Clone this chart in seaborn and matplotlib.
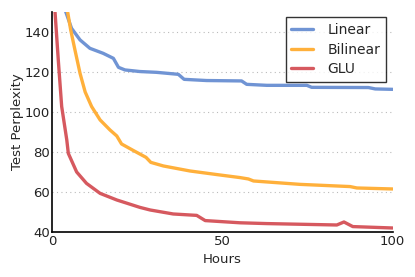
import numpy as np
import pandas as pd
import matplotlib
matplotlib.use("Agg")
import matplotlib.pyplot as plt
import seaborn as sns

linear_hours = [3.7, 5.6, 8.1, 11.0, 14.9, 17.9, 19.4, 21.3, 25.7, 30.6, 37.0, 38.7, 45.3, 55.6, 57.1, 63.0, 74.8, 76.2, 92.9, 94.9, 100.0]
linear_ppl = [151, 141.8, 136, 131.8, 129.3, 126.8, 122.3, 121, 120.2, 119.8, 118.8, 116.3, 115.7, 115.5, 113.8, 113.3, 113.3, 112.3, 112.2, 111.5, 111.3]

bilinear_hours = [4.35, 5.35, 6.6, 8.1, 9.6, 11.5, 14.0, 16.9, 18.9, 20.3, 23.8, 27.5, 28.9, 32.6, 40.4, 48.3, 55.1, 57.6, 59.1, 72.8, 87.5, 89.5, 100.0]
bilinear_ppl = [151, 141, 131, 119.3, 110, 102.7, 96, 91, 88, 84, 80.7, 77.3, 74.8, 73, 70.5, 68.7, 67.2, 66.5, 65.5, 63.8, 62.7, 62, 61.5]

glu_hours = [0.7, 1.7, 2.7, 4.2, 4.65, 7.1, 10.0, 14.0, 18.9, 25.7, 28.7, 35.5, 42.4, 44.9, 55.1, 63.0, 83.6, 85.7, 88.3, 100.0]
glu_ppl = [151, 126, 102.7, 86, 79.3, 70, 64.3, 59.3, 56, 52.3, 51, 49, 48.3, 45.7, 44.6, 44.2, 43.5, 45, 42.7, 42]

series_names = ["Linear", "Bilinear", "GLU"]
colors = ["#7094d4", "#ffb03b", "#d6595f"]

frames = []
for name, h, p in zip(series_names, [linear_hours, bilinear_hours, glu_hours], [linear_ppl, bilinear_ppl, glu_ppl]):
    frames.append(pd.DataFrame({"Hours": h, "ppl": p, "model": name}))
df = pd.concat(frames, ignore_index=True)

sns.set_style("white")
plt.rcParams['font.family'] = ['DejaVu Sans']
fig = plt.figure(figsize=(4.15, 2.77), dpi=100)
ax = fig.add_axes([0.1265, 0.1625, 0.8195, 0.7945])

sns.lineplot(data=df, x="Hours", y="ppl", hue="model", palette=colors,
             linewidth=2.4, ax=ax, sort=False, estimator=None)

ax.set_xlim(0, 100)
ax.set_ylim(40, 150)
ax.set_xticks([0, 50, 100])
ax.set_yticks([40, 60, 80, 100, 120, 140])
ax.yaxis.grid(True, linestyle=(0, (1, 3)), color="#bbbbbb", linewidth=0.8)
ax.xaxis.grid(False)
for s in ["top", "right"]:
    ax.spines[s].set_visible(False)
for s in ["left", "bottom"]:
    ax.spines[s].set_color("black")
    ax.spines[s].set_linewidth(1.2)
ax.tick_params(length=0, labelsize=9.5, pad=2, colors="#222222")
ax.set_xlabel("Hours", fontsize=9.5)
ax.set_ylabel("Test Perplexity", fontsize=9.5, labelpad=0)

leg = ax.legend(loc="upper right", bbox_to_anchor=(0.98, 0.975), fontsize=10,
                frameon=True, fancybox=False, handlelength=1.6, borderpad=0.4,
                labelspacing=0.4, handletextpad=1.0, borderaxespad=0.0)
leg.get_frame().set_edgecolor("black")
leg.get_frame().set_linewidth(1.0)

fig.savefig("out.png", dpi=100)
